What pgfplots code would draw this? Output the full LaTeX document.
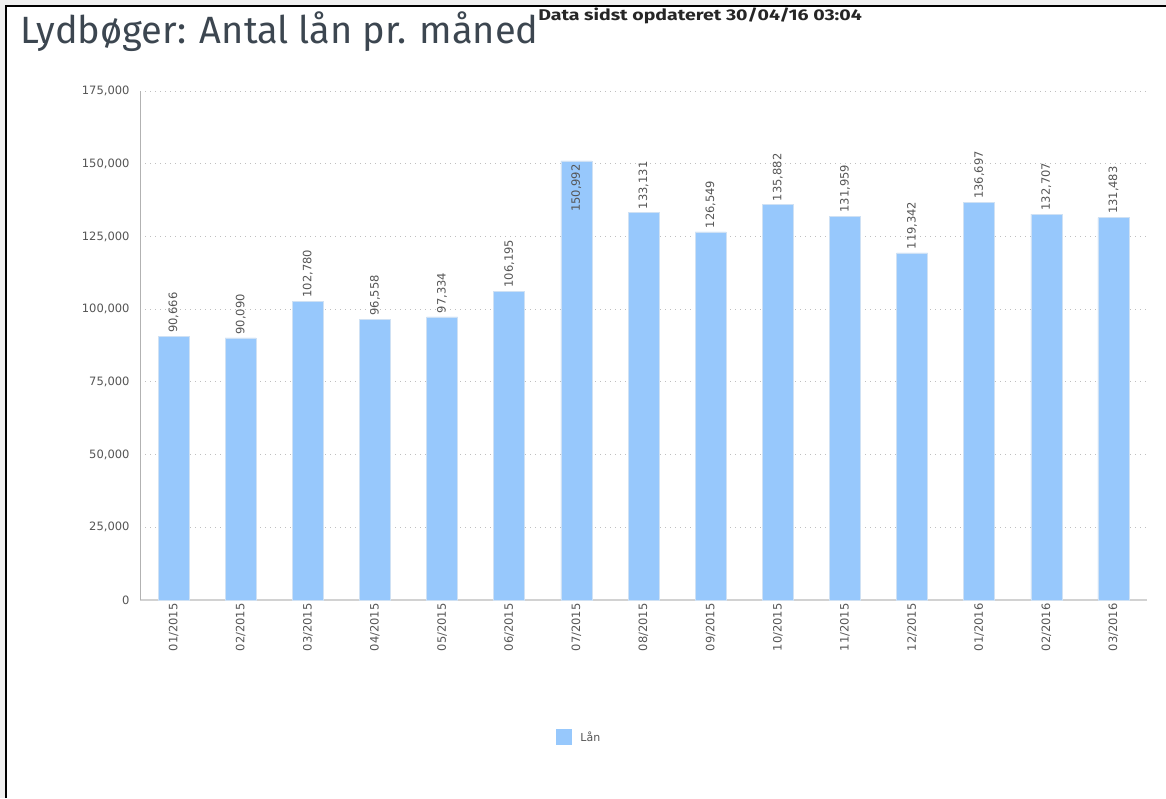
\documentclass[border=0pt]{standalone}
\usepackage{pgfplots}
\pgfplotsset{compat=1.18}
\usepackage{fontspec}
\setmainfont{DejaVu Sans}
\newfontfamily\titlefont{Fira Sans}
\definecolor{barblue}{HTML}{97C8FC}
\definecolor{txtgray}{HTML}{555555}
\definecolor{titlecol}{HTML}{3C4650}
\pgfkeys{/pgf/number format/.cd,fixed,precision=0,1000 sep={,},assume math mode=true}
\begin{document}
\begin{tikzpicture}
\path[use as bounding box] (0pt,0pt) rectangle (1166pt,798pt);
\fill[gray!12] (0pt,0pt) rectangle (5pt,798pt);
\fill[gray!12] (0pt,793pt) rectangle (1166pt,798pt);
\draw[black,line width=2pt] (6pt,0pt) -- (6pt,792pt) -- (1166pt,792pt);
\node[anchor=base west,font=\titlefont\fontsize{38}{44}\selectfont,text=titlecol,inner sep=0pt] at (20pt,754pt) {Lydbøger: Antal lån pr. måned};
\node[anchor=base west,font=\titlefont\fontsize{15.5}{18}\selectfont\bfseries,text=black!85,inner sep=0pt,xscale=1.26] at (538pt,777pt) {Data sidst opdateret 30/04/16 03:04};
\begin{axis}[
  at={(140pt,198pt)}, anchor=south west,
  scale only axis, width=1007pt, height=509pt,
  ybar, bar width=31pt, bar shift=0pt,
  xmin=-0.5, xmax=14.5, ymin=0, ymax=175000,
  xtick={0,...,14},
  xticklabels={01/2015,02/2015,03/2015,04/2015,05/2015,06/2015,07/2015,08/2015,09/2015,10/2015,11/2015,12/2015,01/2016,02/2016,03/2016},
  x tick label style={rotate=90,anchor=east,font=\fontsize{11.5}{13}\selectfont,text=txtgray},
  ytick={0,25000,50000,75000,100000,125000,150000,175000},
  y tick label style={font=\fontsize{11.5}{13}\selectfont,text=txtgray,xshift=-7pt,/pgf/number format/.cd,fixed,precision=0,1000 sep={,},assume math mode=true},
  scaled y ticks=false,
  major tick length=0pt,
  ymajorgrids, grid style={dash pattern=on 1pt off 4pt,gray!50,line width=0.9pt},
  axis x line*=bottom, axis y line*=left,
  x axis line style={gray!35,line width=1.5pt,-},
  y axis line style={gray!60,line width=0.8pt,-},
  nodes near coords,
  point meta=explicit symbolic,
  every node near coord/.append style={rotate=90,anchor=west,font=\fontsize{11.5}{13}\selectfont,text=txtgray},
  legend style={at={(0.436,-0.269)},anchor=center,draw=none,font=\fontsize{11}{13}\selectfont,text=txtgray,
    /tikz/every even column/.append style={column sep=0pt}},
  legend image code/.code={\fill[barblue] (0pt,-7pt) rectangle (15pt,8pt);},
  legend cell align=left,
]
\addplot[fill=barblue,draw=barblue!90!black!40!white,line width=0.6pt] coordinates {
(0,90666) [90{,}666]
(1,90090) [90{,}090]
(2,102780) [102{,}780]
(3,96558) [96{,}558]
(4,97334) [97{,}334]
(5,106195) [106{,}195]
(6,150992) []
(7,133131) [133{,}131]
(8,126549) [126{,}549]
(9,135882) [135{,}882]
(10,131959) [131{,}959]
(11,119342) [119{,}342]
(12,136697) [136{,}697]
(13,132707) [132{,}707]
(14,131483) [131{,}483]};
\addlegendentry{\hspace{7pt}Lån}
\addplot[draw=none,fill=none,forget plot,
  every node near coord/.append style={anchor=east}] coordinates {(6,150992) [150{,}992]};
\end{axis}
\end{tikzpicture}
\end{document}
